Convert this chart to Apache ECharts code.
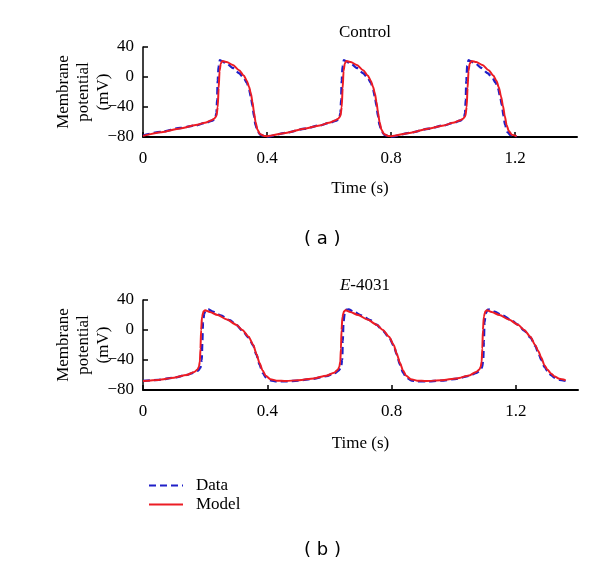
<!DOCTYPE html>
<html>
<head>
<meta charset="utf-8">
<script src="https://cdn.jsdelivr.net/npm/echarts@6/dist/echarts.min.js"></script>
<style>
html,body{margin:0;padding:0;background:#fff;}
#chart{width:600px;height:565px;}
</style>
</head>
<body>
<div id="chart"></div>
<script>
// ---- Data: [time (s), membrane potential (mV)] ----
const controlData = [
  [0, -78], [0.06, -73], [0.12, -68], [0.17, -64.5], [0.2, -61.5], [0.225, -58], [0.233, -55], [0.237, -48],
  [0.239, -30], [0.241, -5], [0.244, 15], [0.248, 22.5], [0.253, 21.5], [0.27, 18], [0.29, 12], [0.31, 5],
  [0.325, -1], [0.335, -8], [0.342, -16], [0.348, -26], [0.353, -38], [0.358, -52], [0.363, -64], [0.37, -73],
  [0.38, -77.5], [0.395, -79], [0.4, -79.5],
  [0.46, -74.5], [0.52, -69], [0.57, -64.5], [0.6, -61.5], [0.625, -58], [0.633, -55], [0.637, -48],
  [0.639, -30], [0.641, -5], [0.644, 15], [0.648, 22.5], [0.653, 21.5], [0.67, 18], [0.69, 12], [0.71, 5],
  [0.725, -1], [0.735, -8], [0.742, -16], [0.748, -26], [0.753, -38], [0.758, -52], [0.763, -64], [0.77, -73],
  [0.78, -77.5], [0.795, -79], [0.8, -79.5],
  [0.86, -74.5], [0.92, -69], [0.97, -64.5], [1.0, -61.5], [1.025, -58], [1.035, -55], [1.039, -48],
  [1.041, -30], [1.043, -5], [1.046, 15], [1.05, 22.5], [1.055, 21.5], [1.072, 18], [1.092, 12], [1.112, 5],
  [1.127, -1], [1.138, -8], [1.146, -16], [1.152, -26], [1.158, -38], [1.163, -52], [1.168, -64], [1.175, -73],
  [1.185, -77.5], [1.2, -79], [1.205, -79.5]
];
const controlModel = [
  [0, -78.5], [0.06, -73.5], [0.12, -68.5], [0.17, -64], [0.2, -61], [0.22, -58], [0.23, -55.5], [0.237, -52],
  [0.241, -40], [0.244, -15], [0.247, 8], [0.251, 18], [0.256, 21.5], [0.27, 20], [0.29, 16], [0.31, 9],
  [0.325, 2], [0.335, -5], [0.342, -13], [0.348, -22], [0.353, -33], [0.358, -47], [0.363, -60], [0.369, -70],
  [0.377, -76], [0.39, -78.5], [0.4, -79],
  [0.46, -74.5], [0.52, -69], [0.57, -64.5], [0.6, -61], [0.62, -58], [0.63, -55.5], [0.637, -52],
  [0.641, -40], [0.644, -15], [0.647, 8], [0.651, 18], [0.656, 21.5], [0.67, 20], [0.69, 16], [0.71, 9],
  [0.725, 2], [0.735, -5], [0.742, -13], [0.748, -22], [0.753, -33], [0.758, -47], [0.763, -60], [0.769, -70],
  [0.777, -76], [0.79, -78.5], [0.8, -79],
  [0.86, -74.5], [0.92, -69], [0.97, -64.5], [1.0, -61], [1.022, -58], [1.033, -55.5], [1.04, -52],
  [1.044, -40], [1.047, -15], [1.05, 8], [1.054, 18], [1.06, 21.5], [1.075, 20], [1.095, 16], [1.115, 9],
  [1.13, 2], [1.14, -5], [1.148, -14], [1.155, -26], [1.161, -38], [1.167, -52], [1.173, -64], [1.18, -72],
  [1.19, -77], [1.205, -79]
];
const e4031Data = [
  [0, -68], [0.05, -66.5], [0.1, -63.5], [0.14, -60], [0.165, -56.5], [0.178, -54], [0.185, -50], [0.189, -40],
  [0.191, -15], [0.193, 10], [0.197, 22], [0.203, 27], [0.21, 27.5], [0.225, 24.5], [0.25, 19.5], [0.28, 13],
  [0.3, 7], [0.32, -1], [0.34, -10], [0.355, -21], [0.365, -33], [0.375, -46], [0.385, -57], [0.395, -63],
  [0.41, -67], [0.43, -68.5], [0.46, -68.5], [0.5, -67.5],
  [0.55, -65], [0.59, -61.5], [0.617, -57.5], [0.63, -54], [0.637, -50], [0.641, -40],
  [0.643, -15], [0.645, 10], [0.649, 22], [0.655, 27], [0.662, 27.5], [0.677, 24.5], [0.702, 19.5], [0.732, 13],
  [0.752, 7], [0.772, -1], [0.792, -10], [0.807, -21], [0.817, -33], [0.827, -46], [0.837, -57], [0.847, -63],
  [0.862, -67], [0.882, -68.5], [0.912, -68.5], [0.96, -67.5],
  [1.01, -65], [1.05, -61], [1.074, -57], [1.085, -54], [1.091, -50], [1.095, -40],
  [1.097, -15], [1.099, 10], [1.103, 22], [1.109, 27], [1.116, 27.5], [1.131, 24.5], [1.156, 19.5], [1.186, 13],
  [1.207, 7], [1.227, -1], [1.247, -10], [1.262, -21], [1.272, -30], [1.282, -40], [1.292, -49], [1.302, -55],
  [1.313, -60], [1.325, -63.5], [1.34, -66.5], [1.36, -68]
];
const e4031Model = [
  [0, -68], [0.05, -66.5], [0.1, -63.5], [0.14, -60], [0.165, -56], [0.175, -53], [0.18, -49], [0.183, -42],
  [0.185, -25], [0.187, 0], [0.19, 18], [0.195, 25], [0.2, 26.5], [0.215, 24], [0.24, 20], [0.27, 14],
  [0.3, 7], [0.32, 0], [0.34, -9], [0.355, -20], [0.365, -32], [0.375, -44], [0.385, -54], [0.395, -61],
  [0.41, -65.5], [0.43, -67.5], [0.46, -68],
  [0.5, -67], [0.55, -64.5], [0.59, -61], [0.615, -57], [0.627, -53], [0.632, -49], [0.635, -42],
  [0.637, -25], [0.639, 0], [0.642, 18], [0.647, 25], [0.652, 26.5], [0.667, 24], [0.692, 20], [0.722, 14],
  [0.752, 7], [0.772, 0], [0.792, -9], [0.807, -20], [0.817, -32], [0.827, -44], [0.837, -54], [0.847, -61],
  [0.862, -65.5], [0.882, -67.5], [0.912, -68],
  [0.96, -67], [1.01, -64.5], [1.05, -60.5], [1.072, -56], [1.082, -53], [1.087, -49], [1.09, -42],
  [1.092, -25], [1.094, 0], [1.097, 18], [1.102, 25], [1.107, 26.5], [1.122, 24], [1.147, 20], [1.177, 14],
  [1.207, 7], [1.227, 0], [1.247, -9], [1.262, -20], [1.272, -28], [1.282, -37], [1.292, -47], [1.302, -53],
  [1.313, -58], [1.325, -62], [1.34, -65], [1.36, -67]
];
const xTicks = [0, 0.4, 0.8, 1.2];
const yTicks = [-80, -40, 0, 40];
const titles = ['Control', 'E-4031'];
const panelLabels = ['( a )', '( b )'];
const seriesNames = ['Data', 'Model'];

// ---- Chart ----
const FONT = 'Liberation Serif';
const BLUE = '#1f1fc8';
const RED = '#ec1c24';
const chart = echarts.init(document.getElementById('chart'), null, {renderer: 'canvas'});

function minusFmt(v) {
  return v < 0 ? '\u2212' + Math.abs(v) : String(v);
}

function xAxisFor(idx, gap) {
  return {
    type: 'value', gridIndex: idx, min: 0, max: 1.4,
    name: 'Time (s)', nameLocation: 'middle', nameGap: gap,
    nameTextStyle: {fontFamily: FONT, fontSize: 17, color: '#000'},
    axisLine: {onZero: false, lineStyle: {color: '#000', width: 2}},
    axisTick: {inside: true, length: 5, lineStyle: {color: '#000', width: 1.5}, customValues: xTicks},
    axisLabel: {fontFamily: FONT, fontSize: 17, color: '#000', margin: 13, customValues: xTicks,
      formatter: function (v) { return String(v); }},
    splitLine: {show: false}
  };
}
function yAxisFor(idx) {
  return {
    type: 'value', gridIndex: idx, min: -80, max: 40, interval: 40,
    name: 'Membrane\npotential\n(mV)', nameLocation: 'middle', nameRotate: 90, nameGap: 29,
    nameMoveOverlap: false,
    nameTextStyle: {fontFamily: FONT, fontSize: 17, color: '#000', lineHeight: 20},
    axisLine: {show: true, onZero: false, lineStyle: {color: '#000', width: 1.5}},
    axisTick: {show: true, inside: true, length: 5, lineStyle: {color: '#000', width: 1.5}},
    axisLabel: {fontFamily: FONT, fontSize: 17, color: '#000', margin: 9, formatter: minusFmt},
    splitLine: {show: false}
  };
}
function lineSeries(name, data, idx) {
  const isData = name === seriesNames[0];
  return {
    type: 'line', name: name, xAxisIndex: idx, yAxisIndex: idx, data: data,
    symbol: 'none', showSymbol: false, smooth: 0.25, smoothMonotone: 'x', animation: false,
    z: isData ? 2 : 3,
    lineStyle: isData ? {color: BLUE, width: 2.3, type: [7, 4]} : {color: RED, width: 2},
    itemStyle: {color: isData ? BLUE : RED}
  };
}

chart.setOption({
  animation: false,
  backgroundColor: '#fff',
  title: [
    {text: titles[0], left: 360, top: 19, textAlign: 'center',
      textStyle: {fontFamily: FONT, fontSize: 17, fontWeight: 'normal', color: '#000'}},
    {text: '{i|E}-4031', left: 360, top: 272, textAlign: 'center',
      textStyle: {fontFamily: FONT, fontSize: 17, fontWeight: 'normal', color: '#000',
        rich: {i: {fontFamily: FONT, fontSize: 17, fontStyle: 'italic', color: '#000'}}}}
  ],
  legend: {
    orient: 'vertical', left: 143, top: 472, itemWidth: 34, itemHeight: 14, itemGap: 2,
    data: seriesNames,
    itemStyle: {opacity: 0},
    textStyle: {fontFamily: FONT, fontSize: 17, color: '#000', padding: [0, 0, 0, 8]}
  },
  grid: [
    {left: 143, top: 47, width: 434, height: 90},
    {left: 143, top: 300, width: 435, height: 90}
  ],
  xAxis: [xAxisFor(0, 43), xAxisFor(1, 45)],
  yAxis: [yAxisFor(0), yAxisFor(1)],
  series: [
    lineSeries(seriesNames[0], controlData, 0),
    lineSeries(seriesNames[1], controlModel, 0),
    lineSeries(seriesNames[0], e4031Data, 1),
    lineSeries(seriesNames[1], e4031Model, 1)
  ],
  graphic: [
    {type: 'text', left: 304, top: 230, style: {text: panelLabels[0], font: '18px "DejaVu Sans"', fill: '#000'}},
    {type: 'text', left: 304, top: 541, style: {text: panelLabels[1], font: '18px "DejaVu Sans"', fill: '#000'}}
  ]
});
</script>
</body>
</html>
